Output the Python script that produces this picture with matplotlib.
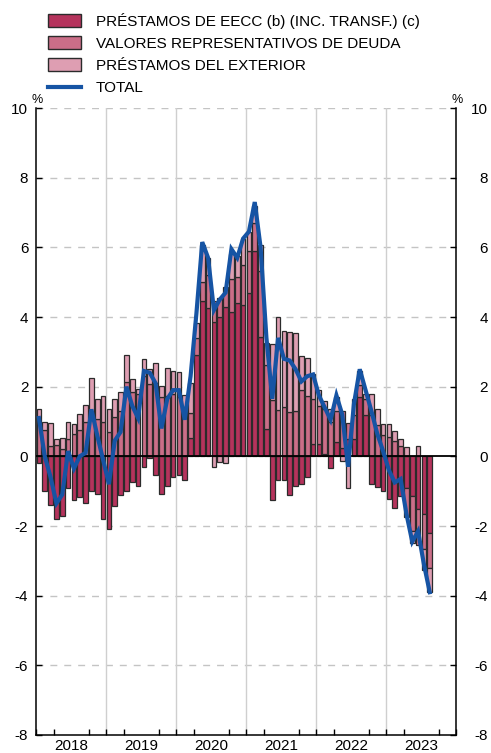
import matplotlib
matplotlib.use("Agg")
import matplotlib.pyplot as plt
from matplotlib.patches import Rectangle
from matplotlib.lines import Line2D
import numpy as np

plt.rcParams['font.family'] = ['Liberation Sans', 'DejaVu Sans']

# ---------------- data (monthly, Jan 2018 - Aug 2023) ----------------
years = ['2018', '2019', '2020', '2021', '2022', '2023']
labels = ['PRÉSTAMOS DE EECC (b) (INC. TRANSF.) (c)',
          'VALORES REPRESENTATIVOS DE DEUDA',
          'PRÉSTAMOS DEL EXTERIOR',
          'TOTAL']

eecc = [-0.2, -1.0, -1.4, -1.8, -1.7, -0.9, -1.25, -1.17, -1.35, -1.0, -1.07, -1.8,
        -2.1, -1.42, -1.11, -0.99, -0.75, -0.84, -0.32, -0.05, -0.55, -1.08, -0.84, -0.6,
        -0.54, -0.68, 0.52, 2.9, 4.47, 4.25, 3.85, 4.0, 4.3, 4.15, 4.4, 4.35,
        4.7, 5.9, 3.43, 0.78, -1.25, -0.68, -0.68, -1.11, -0.85, -0.79, -0.6, 0.35,
        0.35, 0.06, -0.33, 0.4, 0.25, 0.5, 0.5, 1.7, 1.2, -0.78, -0.89, -1.0,
        -1.22, -1.49, -1.15, -0.9, -1.15, -1.5, -1.65, -2.2]

deuda = [1.05, 0.75, 0.3, 0.33, 0.22, 0.5, 0.65, 0.75, 1.0, 1.08, 1.08, 1.0,
         0.69, 1.12, 1.3, 2.12, 1.84, 1.79, 2.3, 2.08, 2.1, 1.69, 1.74, 1.79,
         1.71, 1.3, 0.73, 0.5, 0.54, 0.95, 0.6, 0.55, 0.55, 0.95, 0.75, 1.15,
         1.2, 0.8, 1.9, 1.84, 1.62, 1.33, 1.41, 1.26, 1.31, 1.89, 1.74, 1.3,
         1.1, 1.3, 1.0, 0.9, 1.05, 0.45, 0.7, 0.35, 0.45, 1.2, 0.9, 0.6,
         0.55, 0.45, 0.3, -0.85, -1.0, -1.05, -1.0, -1.0]

exterior = [0.3, 0.25, 0.65, 0.16, 0.32, 0.5, 0.28, 0.47, 0.47, 1.17, 0.56, 0.73,
            0.67, 0.53, 0.54, 0.79, 0.38, 0.14, 0.48, 0.43, 0.58, 0.34, 0.79, 0.67,
            0.72, 0.45, 0.86, 0.42, 1.06, 0.5, -0.3, -0.15, -0.2, 0.7, 0.6, 0.75,
            0.55, 0.5, 0.75, 0.62, 1.6, 2.66, 2.2, 2.32, 2.24, 0.99, 1.07, 0.7,
            0.45, 0.23, 0.35, 0.4, -0.12, -0.92, 0.45, 0.4, 0.15, 0.6, 0.46, 0.33,
            0.38, 0.29, 0.2, 0.26, -0.35, 0.3, -0.6, -0.7]

total = [1.1, 0.0, -0.6, -1.35, -1.1, 0.15, -0.35, 0.0, 0.1, 1.35, 0.6, -0.1,
         -0.8, 0.45, 0.7, 2.0, 1.45, 1.1, 2.45, 2.4, 2.1, 0.8, 1.65, 1.9,
         1.9, 1.05, 2.3, 4.1, 6.15, 5.7, 4.2, 4.5, 4.7, 5.95, 5.7, 6.25,
         6.45, 7.3, 6.0, 3.4, 1.65, 3.4, 2.8, 2.75, 2.5, 2.15, 2.3, 2.35,
         1.75, 1.4, 1.05, 1.75, 1.2, -0.3, 1.5, 2.5, 1.9, 1.3, 0.65, 0.15,
         -0.4, -0.75, -0.65, -1.65, -2.45, -2.15, -3.1, -3.9]

# ---------------- style ----------------
c_dark = '#B5335C'
c_mid = '#CB6E88'
c_light = '#DE9EB2'
c_line = '#1654A4'
edge = '#2b2b2b'

W, H = 491, 753
fig = plt.figure(figsize=(W / 100, H / 100), dpi=100)
L, R, T, B = 36, 456, 108, 735
ax = fig.add_axes([L / W, 1 - B / H, (R - L) / W, (B - T) / H])

x = np.arange(len(total))
pos_base = np.zeros(len(x))
neg_base = np.zeros(len(x))
for vals, col in [(eecc, c_dark), (deuda, c_mid), (exterior, c_light)]:
    v = np.array(vals, dtype=float)
    bottoms = np.where(v >= 0, pos_base, neg_base)
    ax.bar(x, v, bottom=bottoms, width=0.82, color=col, edgecolor=edge,
           linewidth=0.9, zorder=3)
    pos_base = pos_base + np.where(v >= 0, v, 0)
    neg_base = neg_base + np.where(v < 0, v, 0)

ax.axhline(0, color='black', lw=1.3, zorder=4)
ax.plot(x, total, color=c_line, lw=3.0, zorder=5, solid_joinstyle='miter')

ax.set_xlim(-0.5, 71.5)
ax.set_ylim(-8, 10)

# grid
for yv in range(-6, 11, 2):
    if yv == 0:
        continue
    ax.axhline(yv, color='#c4c4c4', lw=1.0, ls=(0, (5, 5)), zorder=1)
for k in range(1, 6):
    ax.axvline(-0.5 + 12 * k, color='#cfcfcf', lw=1.0, zorder=1)

for s in ['top']:
    ax.spines[s].set_visible(False)
for s in ['left', 'bottom', 'right']:
    ax.spines[s].set_color('black')
    ax.spines[s].set_linewidth(1.1)

# x ticks
ax.set_xticks([5.5 + 12 * k for k in range(6)])
ax.set_xticklabels(years, fontsize=11)
ax.tick_params(axis='x', which='major', length=0, pad=3)
ax.set_xticks([-0.5 + 3 * k for k in range(25)], minor=True)
ax.tick_params(axis='x', which='minor', direction='in', length=4, width=1, color='black')

# y ticks both sides
yt = list(range(-8, 11, 2))
ax.set_yticks(yt)
ax.set_yticklabels([str(v) for v in yt])
ax.tick_params(axis='y', which='major', direction='in', length=4, width=1,
               labelsize=11, left=True, right=True, labelleft=True, labelright=True,
               pad=5.5)
for lab in ax.get_yticklabels(which='major'):
    pass
# right labels right-aligned
ax.yaxis.set_tick_params(which='major')
for t in ax.yaxis.get_major_ticks():
    t.label2.set_horizontalalignment('right')
    t.set_pad(5.5)
fig.canvas.draw()
# shift right labels so their right edge sits at ~487px
import matplotlib.transforms as mtransforms
offset = mtransforms.ScaledTranslation(24 / 100, 0, fig.dpi_scale_trans)
for t in ax.yaxis.get_major_ticks():
    t.label2.set_transform(t.label2.get_transform() + offset)

# percent signs
fig.text(37 / W, 1 - 100 / H, '%', fontsize=9, ha='center', va='center')
fig.text(457 / W, 1 - 100 / H, '%', fontsize=9, ha='center', va='center')

# legend (manual)
rows = [20, 42.5, 64.5]
for (yc, col, lab) in zip(rows, [c_dark, c_mid, c_light], labels[:3]):
    fig.add_artist(Rectangle((48 / W, 1 - (yc + 6.5) / H), 33 / W, 13 / H,
                             transform=fig.transFigure, facecolor=col,
                             edgecolor=edge, linewidth=1.0))
    fig.text(96 / W, 1 - (yc + 1) / H, lab, fontsize=11, ha='left', va='center')
fig.add_artist(Line2D([48 / W, 81 / W], [1 - 86.5 / H, 1 - 86.5 / H],
                      transform=fig.transFigure, color=c_line, lw=3.0))
fig.text(96 / W, 1 - 87.5 / H, labels[3], fontsize=11, ha='left', va='center')

fig.savefig('out.png', dpi=100)
